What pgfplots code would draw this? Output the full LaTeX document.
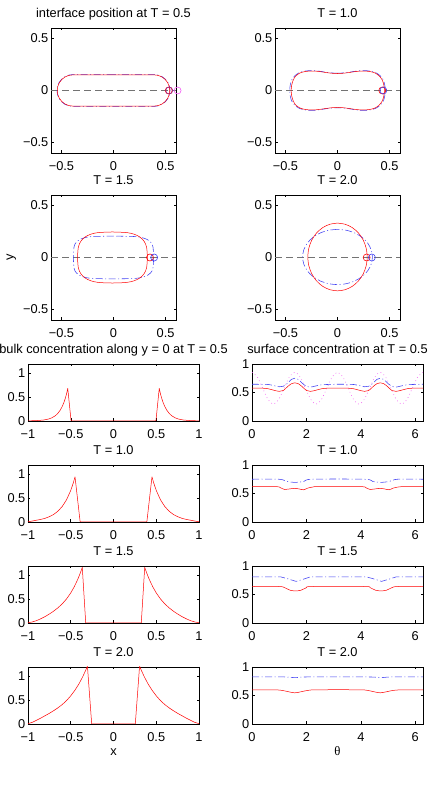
\documentclass[border=0pt]{standalone}
\usepackage{pgfplots}
\pgfplotsset{compat=1.18}
\usepackage{fontspec}
\setmainfont{Liberation Sans}
\newfontfamily\seriffont{Liberation Serif}
\definecolor{myblue}{rgb}{0.25,0.25,0.95}
\definecolor{mygray}{rgb}{0.45,0.45,0.45}
\definecolor{mymag}{rgb}{0.95,0.35,0.95}
\pgfplotsset{
  every axis title/.style={at={(0.5,1)}, anchor=base, yshift=10.5pt},
  every axis x label/.style={at={(0.5,0)}, anchor=base, yshift=-31pt},
  every axis y label/.style={at={(axis description cs:-0.3,0.5)}, anchor=base, rotate=90},
  mystyle/.style={scale only axis, axis line style={line width=0.6pt}, tick style={line width=0.5pt, black},
    major tick length=2.5pt, tick align=inside,
    xticklabel style={inner sep=0pt, yshift=-8pt}, yticklabel style={inner sep=0pt, xshift=-2.5pt},
    clip marker paths=false},
  iface/.style={mystyle, width=125pt, height=125pt, xmin=-0.6, xmax=0.6, ymin=-0.6, ymax=0.6,
    xtick={-0.5,0,0.5}, xticklabels={−0.5,0,0.5}, ytick={-0.5,0,0.5}, yticklabels={−0.5,0,0.5}},
  bulk/.style={mystyle, width=171pt, height=57pt, xmin=-1, xmax=1, ymin=0, ymax=1.2,
    xtick={-1,-0.5,0,0.5,1}, xticklabels={−1,−0.5,0,0.5,1}, ytick={0,0.5,1}, yticklabels={0,0.5,1}},
  surf/.style={mystyle, width=171pt, height=57pt, xmin=0, xmax=6.2832, ymin=0, ymax=1,
    xtick={0,2,4,6}, xticklabels={0,2,4,6}, ytick={0,0.5,1}, yticklabels={0,0.5,1}},
  redl/.style={red, line width=0.5pt, line join=round},
  bluel/.style={myblue, line width=0.55pt, dash pattern=on 7pt off 2.5pt on 1pt off 2.5pt},
  grayl/.style={mygray, line width=0.9pt, dash pattern=on 6.5pt off 4.5pt},
  circ/.style={only marks, mark=o, mark size=3.5pt, mark options={line width=0.6pt}},
}
\begin{document}
\fontsize{12.8}{15}\selectfont
\begin{tikzpicture}
\useasboundingbox (0pt,0pt) rectangle (431pt,790pt);

% ---------- interface T = 0.5 ----------
\begin{axis}[iface, at={(51pt,637pt)}, anchor=south west, title={interface position at T = 0.5}, clip=false]
\addplot[grayl] coordinates {(-0.6,0) (0.6,0)};
\addplot[bluel] coordinates {(0,0.153) (-0.2,0.153) (-0.39,0.153) (-0.4296,0.1478) (-0.4665,0.1325) (-0.4982,0.1082) (-0.5225,0.0765) (-0.5378,0.0396) (-0.543,0) (-0.5378,-0.0396) (-0.5225,-0.0765) (-0.4982,-0.1082) (-0.4665,-0.1325) (-0.4296,-0.1478) (-0.39,-0.153) (-0.2,-0.153) (0,-0.153) (0.2,-0.153) (0.39,-0.153) (0.4296,-0.1478) (0.4665,-0.1325) (0.4982,-0.1082) (0.5225,-0.0765) (0.5378,-0.0396) (0.543,0) (0.5378,0.0396) (0.5225,0.0765) (0.4982,0.1082) (0.4665,0.1325) (0.4296,0.1478) (0.39,0.153) (0.2,0.153) (0,0.153)};
\addplot[redl] coordinates {(0,0.15) (-0.2,0.15) (-0.39,0.15) (-0.4288,0.1449) (-0.465,0.1299) (-0.4961,0.1061) (-0.5199,0.075) (-0.5349,0.0388) (-0.54,0) (-0.5349,-0.0388) (-0.5199,-0.075) (-0.4961,-0.1061) (-0.465,-0.1299) (-0.4288,-0.1449) (-0.39,-0.15) (-0.2,-0.15) (0,-0.15) (0.2,-0.15) (0.39,-0.15) (0.4288,-0.1449) (0.465,-0.1299) (0.4961,-0.1061) (0.5199,-0.075) (0.5349,-0.0388) (0.54,0) (0.5349,0.0388) (0.5199,0.075) (0.4961,0.1061) (0.465,0.1299) (0.4288,0.1449) (0.39,0.15) (0.2,0.15) (0,0.15)};
\addplot[circ, red] coordinates {(0.53,0)};
\addplot[circ, myblue!60!red] coordinates {(0.535,0)};
\addplot[circ, mymag] coordinates {(0.615,0)};
\end{axis}

% ---------- interface T = 1.0 ----------
\begin{axis}[iface, at={(275pt,637pt)}, anchor=south west, title={T = 1.0}]
\addplot[grayl] coordinates {(-0.6,0) (0.6,0)};
\addplot[bluel, smooth] coordinates {(0,0.166) (-0.061,0.169) (-0.122,0.177) (-0.194,0.188) (-0.255,0.191) (-0.316,0.186) (-0.367,0.171) (-0.408,0.143) (-0.439,0.102) (-0.454,0.051) (-0.459,0) (-0.454,-0.051) (-0.439,-0.102) (-0.408,-0.143) (-0.367,-0.171) (-0.316,-0.186) (-0.255,-0.191) (-0.194,-0.188) (-0.122,-0.177) (-0.061,-0.169) (0,-0.166) (0.061,-0.169) (0.122,-0.177) (0.194,-0.188) (0.255,-0.191) (0.316,-0.186) (0.367,-0.171) (0.408,-0.143) (0.439,-0.102) (0.454,-0.051) (0.459,0) (0.454,0.051) (0.439,0.102) (0.408,0.143) (0.367,0.171) (0.316,0.186) (0.255,0.191) (0.194,0.188) (0.122,0.177) (0.061,0.169) (0,0.166)};
\addplot[redl, smooth] coordinates {(0,0.163) (-0.06,0.166) (-0.12,0.174) (-0.19,0.184) (-0.25,0.187) (-0.31,0.182) (-0.36,0.168) (-0.40,0.14) (-0.425,0.1) (-0.44,0.05) (-0.445,0) (-0.44,-0.05) (-0.425,-0.1) (-0.40,-0.14) (-0.36,-0.168) (-0.31,-0.182) (-0.25,-0.187) (-0.19,-0.184) (-0.12,-0.174) (-0.06,-0.166) (0,-0.163) (0.06,-0.166) (0.12,-0.174) (0.19,-0.184) (0.25,-0.187) (0.31,-0.182) (0.36,-0.168) (0.40,-0.14) (0.43,-0.1) (0.445,-0.05) (0.45,0) (0.445,0.05) (0.43,0.1) (0.40,0.14) (0.36,0.168) (0.31,0.182) (0.25,0.187) (0.19,0.184) (0.12,0.174) (0.06,0.166) (0,0.163)};
\addplot[circ, red] coordinates {(0.43,0)};
\addplot[circ, myblue] coordinates {(0.44,0)};
\end{axis}

% ---------- interface T = 1.5 ----------
\begin{axis}[iface, at={(51pt,470pt)}, anchor=south west, title={T = 1.5}, ylabel={y}]
\addplot[grayl] coordinates {(-0.6,0) (0.6,0)};
\addplot[bluel, smooth] coordinates {(0,0.205) (-0.1958,0.2015) (-0.2722,0.1908) (-0.3237,0.1724) (-0.3583,0.145) (-0.3784,0.1043) (-0.385,0) (-0.3784,-0.1043) (-0.3583,-0.145) (-0.3237,-0.1724) (-0.2722,-0.1908) (-0.1958,-0.2015) (0,-0.205) (0.1958,-0.2015) (0.2722,-0.1908) (0.3237,-0.1724) (0.3583,-0.145) (0.3784,-0.1043) (0.385,0) (0.3784,0.1043) (0.3583,0.145) (0.3237,0.1724) (0.2722,0.1908) (0.1958,0.2015) (0,0.205)};
\addplot[redl, smooth] coordinates {(-0.01,0.245) (-0.146,0.2394) (-0.2211,0.2226) (-0.2759,0.1945) (-0.3144,0.1544) (-0.3374,0.0995) (-0.345,0) (-0.3374,-0.0995) (-0.3144,-0.1544) (-0.2759,-0.1945) (-0.2211,-0.2226) (-0.146,-0.2394) (-0.01,-0.245) (0.126,-0.2394) (0.2011,-0.2226) (0.2559,-0.1945) (0.2944,-0.1544) (0.3174,-0.0995) (0.325,0) (0.3174,0.0995) (0.2944,0.1544) (0.2559,0.1945) (0.2011,0.2226) (0.126,0.2394) (-0.01,0.245)};
\addplot[circ, red] coordinates {(0.35,0)};
\addplot[circ, myblue] coordinates {(0.39,0)};
\end{axis}

% ---------- interface T = 2.0 ----------
\begin{axis}[iface, at={(275pt,470pt)}, anchor=south west, title={T = 2.0}]
\addplot[grayl] coordinates {(-0.6,0) (0.6,0)};
\addplot[bluel, smooth] coordinates {(0,0.27) (-0.0867,0.261) (-0.1675,0.2345) (-0.2369,0.1924) (-0.2901,0.1375) (-0.3236,0.0736) (-0.335,0.005) (-0.3236,-0.0636) (-0.2901,-0.1275) (-0.2369,-0.1824) (-0.1675,-0.2245) (-0.0867,-0.251) (0,-0.26) (0.0867,-0.251) (0.1675,-0.2245) (0.2369,-0.1824) (0.2901,-0.1275) (0.3236,-0.0636) (0.335,0.005) (0.3236,0.0736) (0.2901,0.1375) (0.2369,0.1924) (0.1675,0.2345) (0.0867,0.261) (0,0.27)};
\addplot[redl, smooth] coordinates {(0,0.33) (-0.0738,0.3189) (-0.1425,0.2865) (-0.2015,0.2348) (-0.2468,0.1675) (-0.2753,0.0891) (-0.285,0.005) (-0.2753,-0.0791) (-0.2468,-0.1575) (-0.2015,-0.2248) (-0.1425,-0.2765) (-0.0738,-0.3089) (0,-0.32) (0.0738,-0.3089) (0.1425,-0.2765) (0.2015,-0.2248) (0.2468,-0.1575) (0.2753,-0.0791) (0.285,0.005) (0.2753,0.0891) (0.2468,0.1675) (0.2015,0.2348) (0.1425,0.2865) (0.0738,0.3189) (0,0.33)};
\addplot[circ, red] coordinates {(0.28,0)};
\addplot[circ, myblue] coordinates {(0.33,0)};
\end{axis}

% ---------- bulk concentration ----------
\begin{axis}[bulk, at={(28pt,369pt)}, anchor=south west, title={bulk concentration along y = 0 at T = 0.5}]
\addplot[redl] coordinates {(-1,0.003) (-0.9,0.008) (-0.82,0.02) (-0.76,0.041) (-0.72,0.068) (-0.68,0.111) (-0.65,0.163) (-0.625,0.223) (-0.6,0.304) (-0.58,0.39) (-0.565,0.47) (-0.55,0.566) (-0.535,0.686) (-0.496,0) (0.496,0) (0.535,0.686) (0.55,0.566) (0.565,0.47) (0.58,0.39) (0.6,0.304) (0.625,0.223) (0.65,0.163) (0.68,0.111) (0.72,0.068) (0.76,0.041) (0.82,0.02) (0.9,0.008) (1,0.003)};
\end{axis}
\begin{axis}[bulk, at={(28pt,268pt)}, anchor=south west, title={T = 1.0}]
\addplot[redl] coordinates {(-1,0.005) (-0.95,0.02) (-0.9,0.038) (-0.85,0.055) (-0.8,0.078) (-0.75,0.112) (-0.7,0.159) (-0.65,0.228) (-0.6,0.326) (-0.55,0.465) (-0.5,0.665) (-0.47,0.824) (-0.45,0.95) (-0.39,0) (0.39,0) (0.45,0.95) (0.47,0.824) (0.5,0.665) (0.55,0.465) (0.6,0.326) (0.65,0.228) (0.7,0.159) (0.75,0.112) (0.8,0.078) (0.85,0.055) (0.9,0.038) (0.95,0.02) (1,0.005)};
\end{axis}
\begin{axis}[bulk, at={(28pt,167pt)}, anchor=south west, title={T = 1.5}]
\addplot[redl] coordinates {(-1,0.005) (-0.95,0.022) (-0.9,0.05) (-0.85,0.09) (-0.8,0.135) (-0.75,0.19) (-0.7,0.25) (-0.65,0.32) (-0.6,0.402) (-0.55,0.505) (-0.5,0.633) (-0.46,0.76) (-0.42,0.911) (-0.39,1.045) (-0.365,1.17) (-0.325,0) (0.325,0) (0.365,1.17) (0.39,1.045) (0.42,0.911) (0.46,0.76) (0.5,0.633) (0.55,0.505) (0.6,0.402) (0.65,0.32) (0.7,0.25) (0.75,0.19) (0.8,0.135) (0.85,0.09) (0.9,0.05) (0.95,0.022) (1,0.005)};
\end{axis}
\begin{axis}[bulk, at={(28pt,66pt)}, anchor=south west, title={T = 2.0}, xlabel={x}]
\addplot[redl] coordinates {(-1,0.008) (-0.95,0.035) (-0.9,0.08) (-0.85,0.125) (-0.8,0.175) (-0.75,0.225) (-0.7,0.28) (-0.65,0.34) (-0.6,0.409) (-0.55,0.492) (-0.5,0.593) (-0.45,0.713) (-0.4,0.858) (-0.36,0.995) (-0.33,1.112) (-0.305,1.22) (-0.255,0) (0.255,0) (0.305,1.22) (0.33,1.112) (0.36,0.995) (0.4,0.858) (0.45,0.713) (0.5,0.593) (0.55,0.492) (0.6,0.409) (0.65,0.34) (0.7,0.28) (0.75,0.225) (0.8,0.175) (0.85,0.125) (0.9,0.08) (0.95,0.035) (1,0.008)};
\end{axis}

% ---------- surface concentration ----------
\begin{axis}[surf, at={(252pt,369pt)}, anchor=south west, title={surface concentration at T = 0.5}]
\addplot[mymag, line width=0.6pt, dash pattern=on 0.7pt off 3pt, smooth] coordinates {(0,0.855) (0.1963,0.773) (0.3927,0.575) (0.5890,0.377) (0.7854,0.295) (0.9817,0.377) (1.1781,0.575) (1.3744,0.773) (1.5708,0.855) (1.7671,0.773) (1.9635,0.575) (2.1598,0.377) (2.3562,0.295) (2.5525,0.377) (2.7489,0.575) (2.9452,0.773) (3.1416,0.855) (3.3379,0.773) (3.5343,0.575) (3.7306,0.377) (3.9270,0.295) (4.1233,0.377) (4.3197,0.575) (4.5160,0.773) (4.7124,0.855) (4.9087,0.773) (5.1051,0.575) (5.3014,0.377) (5.4978,0.295) (5.6941,0.377) (5.8905,0.575) (6.0868,0.773) (6.2832,0.855)};
\addplot[bluel, smooth] coordinates {(0,0.645) (0.6,0.64) (0.85,0.615) (1.0,0.6) (1.15,0.61) (1.3,0.66) (1.45,0.73) (1.571,0.75) (1.7,0.73) (1.85,0.66) (2.0,0.61) (2.15,0.595) (2.3,0.61) (2.55,0.635) (2.75,0.64) (3.14,0.645) (3.74,0.64) (3.99,0.615) (4.14,0.6) (4.29,0.61) (4.44,0.66) (4.59,0.73) (4.712,0.75) (4.84,0.73) (4.99,0.66) (5.14,0.61) (5.29,0.595) (5.44,0.61) (5.69,0.635) (5.89,0.64) (6.2832,0.645)};
\addplot[redl, smooth] coordinates {(0,0.575) (0.4,0.575) (0.6,0.565) (0.8,0.54) (1.0,0.52) (1.15,0.535) (1.3,0.6) (1.45,0.655) (1.571,0.67) (1.7,0.655) (1.85,0.6) (2.0,0.535) (2.15,0.52) (2.35,0.54) (2.55,0.565) (2.75,0.575) (3.14,0.575) (3.54,0.575) (3.74,0.565) (3.94,0.54) (4.14,0.52) (4.29,0.535) (4.44,0.6) (4.59,0.655) (4.712,0.67) (4.84,0.655) (4.99,0.6) (5.14,0.535) (5.29,0.52) (5.49,0.54) (5.69,0.565) (5.89,0.575) (6.2832,0.575)};
\end{axis}
\begin{axis}[surf, at={(252pt,268pt)}, anchor=south west, title={T = 1.0}]
\addplot[bluel, smooth] coordinates {(0,0.75) (1.0,0.75) (1.3,0.71) (1.57,0.695) (1.9,0.71) (2.2,0.75) (4.14,0.75) (4.44,0.71) (4.71,0.695) (5.04,0.71) (5.34,0.75) (6.2832,0.75)};
\addplot[redl, smooth] coordinates {(0,0.62) (0.9,0.62) (1.05,0.6) (1.2,0.57) (1.35,0.578) (1.57,0.59) (1.75,0.578) (1.9,0.565) (2.05,0.595) (2.25,0.615) (2.45,0.62) (4.0,0.62) (4.19,0.6) (4.34,0.57) (4.49,0.578) (4.71,0.59) (4.89,0.578) (5.04,0.565) (5.19,0.595) (5.39,0.615) (5.59,0.62) (6.2832,0.62)};
\end{axis}
\begin{axis}[surf, at={(252pt,167pt)}, anchor=south west, title={T = 1.5}]
\addplot[bluel] coordinates {(0,0.81) (1.05,0.81) (1.35,0.77) (1.62,0.73) (1.9,0.77) (2.15,0.81) (4.2,0.81) (4.5,0.77) (4.76,0.73) (5.04,0.77) (5.3,0.81) (6.2832,0.81)};
\addplot[redl, smooth] coordinates {(0,0.64) (1.0,0.64) (1.2,0.62) (1.4,0.575) (1.6,0.563) (1.8,0.575) (2.0,0.62) (2.2,0.64) (4.14,0.64) (4.34,0.62) (4.54,0.575) (4.74,0.563) (4.94,0.575) (5.14,0.62) (5.34,0.64) (6.2832,0.64)};
\end{axis}
\begin{axis}[surf, at={(252pt,66pt)}, anchor=south west, title={T = 2.0}, xlabel={\seriffont θ}]
\addplot[bluel, smooth] coordinates {(0,0.827) (1.2,0.825) (1.6,0.812) (2.0,0.825) (4.3,0.825) (4.71,0.812) (5.1,0.825) (6.2832,0.827)};
\addplot[redl, smooth] coordinates {(0,0.6) (0.8,0.6) (1.1,0.59) (1.35,0.565) (1.57,0.547) (1.8,0.565) (2.05,0.59) (2.4,0.6) (3.94,0.6) (4.24,0.59) (4.49,0.565) (4.71,0.547) (4.94,0.565) (5.19,0.59) (5.54,0.6) (6.2832,0.6)};
\end{axis}
\end{tikzpicture}
\end{document}
